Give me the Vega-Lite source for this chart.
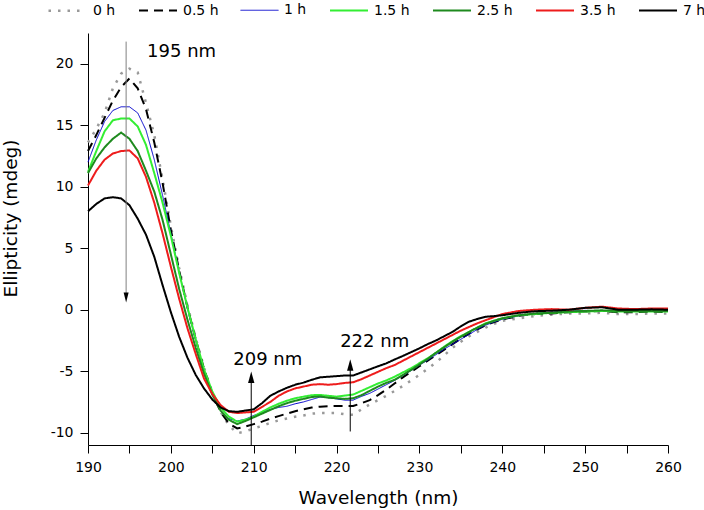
{
 "$schema": "https://vega.github.io/schema/vega-lite/v6.json",
 "width": 580, "height": 412,
 "autosize": {"type": "none"},
 "padding": {"left": 88, "top": 33, "right": 36, "bottom": 65},
 "background": "white",
 "config": {
  "view": {"stroke": null},
  "font": "DejaVu Sans",
  "axis": {"grid": false, "domainColor": "black", "domainWidth": 1, "tickColor": "black", "tickWidth": 1, "tickSize": 8,
   "labelColor": "black", "labelFont": "DejaVu Sans", "labelFontSize": 14, "titleFont": "DejaVu Sans", "titleFontSize": 18.5, "titleFontWeight": "normal", "titleColor": "black"}
 },
 "layer": [
  {
   "data": {"values": [
{"series":"0 h","wl":190,"cd":13.6},{"series":"0 h","wl":191,"cd":14.7},{"series":"0 h","wl":192,"cd":16.0},{"series":"0 h","wl":193,"cd":18.0},{"series":"0 h","wl":194,"cd":19.2},{"series":"0 h","wl":195,"cd":19.6},{"series":"0 h","wl":196,"cd":19.3},{"series":"0 h","wl":197,"cd":16.8},{"series":"0 h","wl":198,"cd":14.2},{"series":"0 h","wl":199,"cd":10.6},{"series":"0 h","wl":200,"cd":6.8},{"series":"0 h","wl":201,"cd":3.4},{"series":"0 h","wl":202,"cd":0.4},{"series":"0 h","wl":203,"cd":-2.3},{"series":"0 h","wl":204,"cd":-4.7},{"series":"0 h","wl":205,"cd":-6.7},{"series":"0 h","wl":206,"cd":-8.3},{"series":"0 h","wl":207,"cd":-9.4},{"series":"0 h","wl":208,"cd":-10.05},{"series":"0 h","wl":209,"cd":-9.9},{"series":"0 h","wl":210,"cd":-9.65},{"series":"0 h","wl":211,"cd":-9.45},{"series":"0 h","wl":212,"cd":-9.2},{"series":"0 h","wl":213,"cd":-9.0},{"series":"0 h","wl":214,"cd":-8.85},{"series":"0 h","wl":215,"cd":-8.7},{"series":"0 h","wl":216,"cd":-8.6},{"series":"0 h","wl":217,"cd":-8.45},{"series":"0 h","wl":218,"cd":-8.4},{"series":"0 h","wl":219,"cd":-8.4},{"series":"0 h","wl":220,"cd":-8.4},{"series":"0 h","wl":221,"cd":-8.5},{"series":"0 h","wl":222,"cd":-8.55},{"series":"0 h","wl":223,"cd":-8.1},{"series":"0 h","wl":224,"cd":-7.7},{"series":"0 h","wl":225,"cd":-7.35},{"series":"0 h","wl":226,"cd":-7.0},{"series":"0 h","wl":227,"cd":-6.6},{"series":"0 h","wl":228,"cd":-6.2},{"series":"0 h","wl":229,"cd":-5.75},{"series":"0 h","wl":230,"cd":-5.3},{"series":"0 h","wl":231,"cd":-4.8},{"series":"0 h","wl":232,"cd":-4.3},{"series":"0 h","wl":233,"cd":-3.7},{"series":"0 h","wl":234,"cd":-3.1},{"series":"0 h","wl":235,"cd":-2.6},{"series":"0 h","wl":236,"cd":-2.15},{"series":"0 h","wl":237,"cd":-1.8},{"series":"0 h","wl":238,"cd":-1.45},{"series":"0 h","wl":239,"cd":-1.15},{"series":"0 h","wl":240,"cd":-0.9},{"series":"0 h","wl":242,"cd":-0.7},{"series":"0 h","wl":244,"cd":-0.5},{"series":"0 h","wl":246,"cd":-0.4},{"series":"0 h","wl":248,"cd":-0.3},{"series":"0 h","wl":250,"cd":-0.3},{"series":"0 h","wl":252,"cd":-0.25},{"series":"0 h","wl":254,"cd":-0.35},{"series":"0 h","wl":256,"cd":-0.35},{"series":"0 h","wl":258,"cd":-0.3},{"series":"0 h","wl":260,"cd":-0.3},
{"series":"0.5 h","wl":190,"cd":12.9},{"series":"0.5 h","wl":191,"cd":14.2},{"series":"0.5 h","wl":192,"cd":15.6},{"series":"0.5 h","wl":193,"cd":17.0},{"series":"0.5 h","wl":194,"cd":18.1},{"series":"0.5 h","wl":195,"cd":18.8},{"series":"0.5 h","wl":196,"cd":18.0},{"series":"0.5 h","wl":197,"cd":16.3},{"series":"0.5 h","wl":198,"cd":13.6},{"series":"0.5 h","wl":199,"cd":10.3},{"series":"0.5 h","wl":200,"cd":6.5},{"series":"0.5 h","wl":201,"cd":3.2},{"series":"0.5 h","wl":202,"cd":0.2},{"series":"0.5 h","wl":203,"cd":-2.4},{"series":"0.5 h","wl":204,"cd":-4.8},{"series":"0.5 h","wl":205,"cd":-6.8},{"series":"0.5 h","wl":206,"cd":-8.3},{"series":"0.5 h","wl":207,"cd":-9.25},{"series":"0.5 h","wl":208,"cd":-9.65},{"series":"0.5 h","wl":209,"cd":-9.5},{"series":"0.5 h","wl":210,"cd":-9.3},{"series":"0.5 h","wl":211,"cd":-9.1},{"series":"0.5 h","wl":212,"cd":-8.85},{"series":"0.5 h","wl":213,"cd":-8.65},{"series":"0.5 h","wl":214,"cd":-8.45},{"series":"0.5 h","wl":215,"cd":-8.25},{"series":"0.5 h","wl":216,"cd":-8.1},{"series":"0.5 h","wl":217,"cd":-7.95},{"series":"0.5 h","wl":218,"cd":-7.88},{"series":"0.5 h","wl":219,"cd":-7.85},{"series":"0.5 h","wl":220,"cd":-7.83},{"series":"0.5 h","wl":221,"cd":-7.83},{"series":"0.5 h","wl":222,"cd":-7.83},{"series":"0.5 h","wl":223,"cd":-7.6},{"series":"0.5 h","wl":224,"cd":-7.35},{"series":"0.5 h","wl":225,"cd":-6.95},{"series":"0.5 h","wl":226,"cd":-6.5},{"series":"0.5 h","wl":227,"cd":-6.0},{"series":"0.5 h","wl":228,"cd":-5.5},{"series":"0.5 h","wl":229,"cd":-5.05},{"series":"0.5 h","wl":230,"cd":-4.6},{"series":"0.5 h","wl":231,"cd":-4.15},{"series":"0.5 h","wl":232,"cd":-3.7},{"series":"0.5 h","wl":233,"cd":-3.25},{"series":"0.5 h","wl":234,"cd":-2.8},{"series":"0.5 h","wl":235,"cd":-2.35},{"series":"0.5 h","wl":236,"cd":-1.95},{"series":"0.5 h","wl":237,"cd":-1.6},{"series":"0.5 h","wl":238,"cd":-1.25},{"series":"0.5 h","wl":239,"cd":-1.0},{"series":"0.5 h","wl":240,"cd":-0.8},{"series":"0.5 h","wl":242,"cd":-0.5},{"series":"0.5 h","wl":244,"cd":-0.35},{"series":"0.5 h","wl":246,"cd":-0.3},{"series":"0.5 h","wl":248,"cd":-0.2},{"series":"0.5 h","wl":250,"cd":-0.15},{"series":"0.5 h","wl":252,"cd":-0.1},{"series":"0.5 h","wl":254,"cd":-0.2},{"series":"0.5 h","wl":256,"cd":-0.2},{"series":"0.5 h","wl":258,"cd":-0.15},{"series":"0.5 h","wl":260,"cd":-0.2},
{"series":"1 h","wl":190,"cd":12.0},{"series":"1 h","wl":191,"cd":13.8},{"series":"1 h","wl":192,"cd":15.3},{"series":"1 h","wl":193,"cd":16.2},{"series":"1 h","wl":194,"cd":16.5},{"series":"1 h","wl":195,"cd":16.5},{"series":"1 h","wl":196,"cd":16.0},{"series":"1 h","wl":197,"cd":14.6},{"series":"1 h","wl":198,"cd":12.2},{"series":"1 h","wl":199,"cd":9.3},{"series":"1 h","wl":200,"cd":6.2},{"series":"1 h","wl":201,"cd":3.1},{"series":"1 h","wl":202,"cd":0.1},{"series":"1 h","wl":203,"cd":-2.5},{"series":"1 h","wl":204,"cd":-4.9},{"series":"1 h","wl":205,"cd":-6.8},{"series":"1 h","wl":206,"cd":-8.2},{"series":"1 h","wl":207,"cd":-8.85},{"series":"1 h","wl":208,"cd":-9.05},{"series":"1 h","wl":209,"cd":-8.9},{"series":"1 h","wl":210,"cd":-8.6},{"series":"1 h","wl":211,"cd":-8.35},{"series":"1 h","wl":212,"cd":-8.1},{"series":"1 h","wl":213,"cd":-7.95},{"series":"1 h","wl":214,"cd":-7.85},{"series":"1 h","wl":215,"cd":-7.65},{"series":"1 h","wl":216,"cd":-7.5},{"series":"1 h","wl":217,"cd":-7.3},{"series":"1 h","wl":218,"cd":-7.1},{"series":"1 h","wl":219,"cd":-7.15},{"series":"1 h","wl":220,"cd":-7.25},{"series":"1 h","wl":221,"cd":-7.35},{"series":"1 h","wl":222,"cd":-7.35},{"series":"1 h","wl":223,"cd":-7.05},{"series":"1 h","wl":224,"cd":-6.8},{"series":"1 h","wl":225,"cd":-6.45},{"series":"1 h","wl":226,"cd":-6.1},{"series":"1 h","wl":227,"cd":-5.75},{"series":"1 h","wl":228,"cd":-5.35},{"series":"1 h","wl":229,"cd":-4.95},{"series":"1 h","wl":230,"cd":-4.5},{"series":"1 h","wl":231,"cd":-4.1},{"series":"1 h","wl":232,"cd":-3.65},{"series":"1 h","wl":233,"cd":-3.2},{"series":"1 h","wl":234,"cd":-2.8},{"series":"1 h","wl":235,"cd":-2.4},{"series":"1 h","wl":236,"cd":-2.0},{"series":"1 h","wl":237,"cd":-1.6},{"series":"1 h","wl":238,"cd":-1.25},{"series":"1 h","wl":239,"cd":-1.0},{"series":"1 h","wl":240,"cd":-0.78},{"series":"1 h","wl":242,"cd":-0.5},{"series":"1 h","wl":244,"cd":-0.3},{"series":"1 h","wl":246,"cd":-0.2},{"series":"1 h","wl":248,"cd":-0.1},{"series":"1 h","wl":250,"cd":-0.05},{"series":"1 h","wl":252,"cd":-0.1},{"series":"1 h","wl":254,"cd":-0.1},{"series":"1 h","wl":256,"cd":-0.05},{"series":"1 h","wl":258,"cd":-0.1},{"series":"1 h","wl":260,"cd":-0.05},
{"series":"1.5 h","wl":190,"cd":11.2},{"series":"1.5 h","wl":191,"cd":12.9},{"series":"1.5 h","wl":192,"cd":14.5},{"series":"1.5 h","wl":193,"cd":15.4},{"series":"1.5 h","wl":194,"cd":15.55},{"series":"1.5 h","wl":195,"cd":15.55},{"series":"1.5 h","wl":196,"cd":14.9},{"series":"1.5 h","wl":197,"cd":13.4},{"series":"1.5 h","wl":198,"cd":11.1},{"series":"1.5 h","wl":199,"cd":8.7},{"series":"1.5 h","wl":200,"cd":6.0},{"series":"1.5 h","wl":201,"cd":3.0},{"series":"1.5 h","wl":202,"cd":0.2},{"series":"1.5 h","wl":203,"cd":-2.4},{"series":"1.5 h","wl":204,"cd":-4.85},{"series":"1.5 h","wl":205,"cd":-6.65},{"series":"1.5 h","wl":206,"cd":-7.95},{"series":"1.5 h","wl":207,"cd":-8.7},{"series":"1.5 h","wl":208,"cd":-9.1},{"series":"1.5 h","wl":209,"cd":-8.95},{"series":"1.5 h","wl":210,"cd":-8.7},{"series":"1.5 h","wl":211,"cd":-8.3},{"series":"1.5 h","wl":212,"cd":-7.95},{"series":"1.5 h","wl":213,"cd":-7.65},{"series":"1.5 h","wl":214,"cd":-7.4},{"series":"1.5 h","wl":215,"cd":-7.2},{"series":"1.5 h","wl":216,"cd":-7.07},{"series":"1.5 h","wl":217,"cd":-6.95},{"series":"1.5 h","wl":218,"cd":-6.93},{"series":"1.5 h","wl":219,"cd":-7.0},{"series":"1.5 h","wl":220,"cd":-7.07},{"series":"1.5 h","wl":221,"cd":-6.98},{"series":"1.5 h","wl":222,"cd":-6.9},{"series":"1.5 h","wl":223,"cd":-6.6},{"series":"1.5 h","wl":224,"cd":-6.3},{"series":"1.5 h","wl":225,"cd":-6.0},{"series":"1.5 h","wl":226,"cd":-5.75},{"series":"1.5 h","wl":227,"cd":-5.45},{"series":"1.5 h","wl":228,"cd":-5.1},{"series":"1.5 h","wl":229,"cd":-4.75},{"series":"1.5 h","wl":230,"cd":-4.35},{"series":"1.5 h","wl":231,"cd":-3.95},{"series":"1.5 h","wl":232,"cd":-3.5},{"series":"1.5 h","wl":233,"cd":-3.0},{"series":"1.5 h","wl":234,"cd":-2.55},{"series":"1.5 h","wl":235,"cd":-2.15},{"series":"1.5 h","wl":236,"cd":-1.8},{"series":"1.5 h","wl":237,"cd":-1.45},{"series":"1.5 h","wl":238,"cd":-1.1},{"series":"1.5 h","wl":239,"cd":-0.9},{"series":"1.5 h","wl":240,"cd":-0.7},{"series":"1.5 h","wl":242,"cd":-0.45},{"series":"1.5 h","wl":244,"cd":-0.35},{"series":"1.5 h","wl":246,"cd":-0.25},{"series":"1.5 h","wl":248,"cd":-0.2},{"series":"1.5 h","wl":250,"cd":-0.15},{"series":"1.5 h","wl":252,"cd":-0.1},{"series":"1.5 h","wl":254,"cd":-0.15},{"series":"1.5 h","wl":256,"cd":-0.15},{"series":"1.5 h","wl":258,"cd":-0.15},{"series":"1.5 h","wl":260,"cd":-0.15},
{"series":"2.5 h","wl":190,"cd":11.1},{"series":"2.5 h","wl":191,"cd":12.3},{"series":"2.5 h","wl":192,"cd":13.2},{"series":"2.5 h","wl":193,"cd":13.9},{"series":"2.5 h","wl":194,"cd":14.4},{"series":"2.5 h","wl":195,"cd":13.9},{"series":"2.5 h","wl":196,"cd":12.9},{"series":"2.5 h","wl":197,"cd":11.3},{"series":"2.5 h","wl":198,"cd":9.6},{"series":"2.5 h","wl":199,"cd":7.3},{"series":"2.5 h","wl":200,"cd":4.5},{"series":"2.5 h","wl":201,"cd":1.7},{"series":"2.5 h","wl":202,"cd":-0.8},{"series":"2.5 h","wl":203,"cd":-3.1},{"series":"2.5 h","wl":204,"cd":-5.2},{"series":"2.5 h","wl":205,"cd":-6.9},{"series":"2.5 h","wl":206,"cd":-8.2},{"series":"2.5 h","wl":207,"cd":-8.95},{"series":"2.5 h","wl":208,"cd":-9.3},{"series":"2.5 h","wl":209,"cd":-9.05},{"series":"2.5 h","wl":210,"cd":-8.75},{"series":"2.5 h","wl":211,"cd":-8.45},{"series":"2.5 h","wl":212,"cd":-8.15},{"series":"2.5 h","wl":213,"cd":-7.85},{"series":"2.5 h","wl":214,"cd":-7.6},{"series":"2.5 h","wl":215,"cd":-7.4},{"series":"2.5 h","wl":216,"cd":-7.25},{"series":"2.5 h","wl":217,"cd":-7.1},{"series":"2.5 h","wl":218,"cd":-7.05},{"series":"2.5 h","wl":219,"cd":-7.15},{"series":"2.5 h","wl":220,"cd":-7.2},{"series":"2.5 h","wl":221,"cd":-7.25},{"series":"2.5 h","wl":222,"cd":-7.2},{"series":"2.5 h","wl":223,"cd":-6.95},{"series":"2.5 h","wl":224,"cd":-6.6},{"series":"2.5 h","wl":225,"cd":-6.25},{"series":"2.5 h","wl":226,"cd":-5.95},{"series":"2.5 h","wl":227,"cd":-5.7},{"series":"2.5 h","wl":228,"cd":-5.3},{"series":"2.5 h","wl":229,"cd":-4.9},{"series":"2.5 h","wl":230,"cd":-4.45},{"series":"2.5 h","wl":231,"cd":-4.0},{"series":"2.5 h","wl":232,"cd":-3.5},{"series":"2.5 h","wl":233,"cd":-3.05},{"series":"2.5 h","wl":234,"cd":-2.6},{"series":"2.5 h","wl":235,"cd":-2.2},{"series":"2.5 h","wl":236,"cd":-1.8},{"series":"2.5 h","wl":237,"cd":-1.45},{"series":"2.5 h","wl":238,"cd":-1.15},{"series":"2.5 h","wl":239,"cd":-0.9},{"series":"2.5 h","wl":240,"cd":-0.7},{"series":"2.5 h","wl":242,"cd":-0.45},{"series":"2.5 h","wl":244,"cd":-0.3},{"series":"2.5 h","wl":246,"cd":-0.25},{"series":"2.5 h","wl":248,"cd":-0.15},{"series":"2.5 h","wl":250,"cd":-0.1},{"series":"2.5 h","wl":252,"cd":-0.05},{"series":"2.5 h","wl":254,"cd":-0.1},{"series":"2.5 h","wl":256,"cd":-0.1},{"series":"2.5 h","wl":258,"cd":-0.1},{"series":"2.5 h","wl":260,"cd":-0.1},
{"series":"3.5 h","wl":190,"cd":10.1},{"series":"3.5 h","wl":191,"cd":11.3},{"series":"3.5 h","wl":192,"cd":12.2},{"series":"3.5 h","wl":193,"cd":12.7},{"series":"3.5 h","wl":194,"cd":12.9},{"series":"3.5 h","wl":195,"cd":12.95},{"series":"3.5 h","wl":196,"cd":12.3},{"series":"3.5 h","wl":197,"cd":10.8},{"series":"3.5 h","wl":198,"cd":8.7},{"series":"3.5 h","wl":199,"cd":6.2},{"series":"3.5 h","wl":200,"cd":3.5},{"series":"3.5 h","wl":201,"cd":0.9},{"series":"3.5 h","wl":202,"cd":-1.5},{"series":"3.5 h","wl":203,"cd":-3.6},{"series":"3.5 h","wl":204,"cd":-5.6},{"series":"3.5 h","wl":205,"cd":-6.85},{"series":"3.5 h","wl":206,"cd":-7.75},{"series":"3.5 h","wl":207,"cd":-8.3},{"series":"3.5 h","wl":208,"cd":-8.4},{"series":"3.5 h","wl":209,"cd":-8.35},{"series":"3.5 h","wl":210,"cd":-8.3},{"series":"3.5 h","wl":211,"cd":-7.9},{"series":"3.5 h","wl":212,"cd":-7.5},{"series":"3.5 h","wl":213,"cd":-7.0},{"series":"3.5 h","wl":214,"cd":-6.65},{"series":"3.5 h","wl":215,"cd":-6.4},{"series":"3.5 h","wl":216,"cd":-6.25},{"series":"3.5 h","wl":217,"cd":-6.1},{"series":"3.5 h","wl":218,"cd":-6.05},{"series":"3.5 h","wl":219,"cd":-6.1},{"series":"3.5 h","wl":220,"cd":-6.05},{"series":"3.5 h","wl":221,"cd":-5.95},{"series":"3.5 h","wl":222,"cd":-5.9},{"series":"3.5 h","wl":223,"cd":-5.65},{"series":"3.5 h","wl":224,"cd":-5.35},{"series":"3.5 h","wl":225,"cd":-5.05},{"series":"3.5 h","wl":226,"cd":-4.75},{"series":"3.5 h","wl":227,"cd":-4.5},{"series":"3.5 h","wl":228,"cd":-4.15},{"series":"3.5 h","wl":229,"cd":-3.8},{"series":"3.5 h","wl":230,"cd":-3.45},{"series":"3.5 h","wl":231,"cd":-3.1},{"series":"3.5 h","wl":232,"cd":-2.75},{"series":"3.5 h","wl":233,"cd":-2.4},{"series":"3.5 h","wl":234,"cd":-2.05},{"series":"3.5 h","wl":235,"cd":-1.7},{"series":"3.5 h","wl":236,"cd":-1.4},{"series":"3.5 h","wl":237,"cd":-1.1},{"series":"3.5 h","wl":238,"cd":-0.85},{"series":"3.5 h","wl":239,"cd":-0.6},{"series":"3.5 h","wl":240,"cd":-0.35},{"series":"3.5 h","wl":242,"cd":-0.1},{"series":"3.5 h","wl":244,"cd":0.0},{"series":"3.5 h","wl":246,"cd":0.05},{"series":"3.5 h","wl":248,"cd":0.0},{"series":"3.5 h","wl":250,"cd":0.15},{"series":"3.5 h","wl":252,"cd":0.25},{"series":"3.5 h","wl":254,"cd":0.1},{"series":"3.5 h","wl":256,"cd":0.05},{"series":"3.5 h","wl":258,"cd":0.1},{"series":"3.5 h","wl":260,"cd":0.1},
{"series":"7 h","wl":190,"cd":8.0},{"series":"7 h","wl":191,"cd":8.6},{"series":"7 h","wl":192,"cd":9.05},{"series":"7 h","wl":193,"cd":9.15},{"series":"7 h","wl":194,"cd":9.05},{"series":"7 h","wl":195,"cd":8.5},{"series":"7 h","wl":196,"cd":7.4},{"series":"7 h","wl":197,"cd":6.1},{"series":"7 h","wl":198,"cd":4.3},{"series":"7 h","wl":199,"cd":2.0},{"series":"7 h","wl":200,"cd":-0.2},{"series":"7 h","wl":201,"cd":-2.2},{"series":"7 h","wl":202,"cd":-3.9},{"series":"7 h","wl":203,"cd":-5.3},{"series":"7 h","wl":204,"cd":-6.4},{"series":"7 h","wl":205,"cd":-7.3},{"series":"7 h","wl":206,"cd":-7.95},{"series":"7 h","wl":207,"cd":-8.25},{"series":"7 h","wl":208,"cd":-8.3},{"series":"7 h","wl":209,"cd":-8.2},{"series":"7 h","wl":210,"cd":-8.1},{"series":"7 h","wl":211,"cd":-7.6},{"series":"7 h","wl":212,"cd":-7.0},{"series":"7 h","wl":213,"cd":-6.65},{"series":"7 h","wl":214,"cd":-6.35},{"series":"7 h","wl":215,"cd":-6.1},{"series":"7 h","wl":216,"cd":-5.93},{"series":"7 h","wl":217,"cd":-5.7},{"series":"7 h","wl":218,"cd":-5.5},{"series":"7 h","wl":219,"cd":-5.45},{"series":"7 h","wl":220,"cd":-5.4},{"series":"7 h","wl":221,"cd":-5.35},{"series":"7 h","wl":222,"cd":-5.35},{"series":"7 h","wl":223,"cd":-5.1},{"series":"7 h","wl":224,"cd":-4.85},{"series":"7 h","wl":225,"cd":-4.6},{"series":"7 h","wl":226,"cd":-4.36},{"series":"7 h","wl":227,"cd":-4.05},{"series":"7 h","wl":228,"cd":-3.76},{"series":"7 h","wl":229,"cd":-3.45},{"series":"7 h","wl":230,"cd":-3.14},{"series":"7 h","wl":231,"cd":-2.8},{"series":"7 h","wl":232,"cd":-2.5},{"series":"7 h","wl":233,"cd":-2.15},{"series":"7 h","wl":234,"cd":-1.8},{"series":"7 h","wl":235,"cd":-1.35},{"series":"7 h","wl":236,"cd":-0.97},{"series":"7 h","wl":237,"cd":-0.75},{"series":"7 h","wl":238,"cd":-0.57},{"series":"7 h","wl":239,"cd":-0.52},{"series":"7 h","wl":240,"cd":-0.45},{"series":"7 h","wl":242,"cd":-0.25},{"series":"7 h","wl":244,"cd":-0.12},{"series":"7 h","wl":246,"cd":-0.08},{"series":"7 h","wl":248,"cd":0.0},{"series":"7 h","wl":250,"cd":0.15},{"series":"7 h","wl":252,"cd":0.2},{"series":"7 h","wl":254,"cd":0.0},{"series":"7 h","wl":256,"cd":0.0},{"series":"7 h","wl":258,"cd":0.03},{"series":"7 h","wl":260,"cd":0.0}
   ]},
   "mark": {"type": "line", "interpolate": "linear"},
   "encoding": {
    "x": {"field": "wl", "type": "quantitative", "scale": {"domain": [190, 260], "nice": false, "zero": false},
     "axis": {"title": "Wavelength (nm)", "values": [190,195,200,205,210,215,220,225,230,235,240,245,250,255,260], "labelExpr": "datum.value % 10 === 0 ? toString(datum.value) : ''", "labelPadding": 7, "titleY": 43, "titleBaseline": "top", "labelFlush": false}},
    "y": {"field": "cd", "type": "quantitative", "scale": {"domain": [-11, 22.5], "nice": false, "zero": false},
     "axis": {"title": "Ellipticity (mdeg)", "values": [-10,-7.5,-5,-2.5,0,2.5,5,7.5,10,12.5,15,17.5,20], "labelExpr": "datum.value % 5 === 0 ? toString(datum.value) : ''", "labelPadding": 7, "titleX": -78, "titleY": 185, "titleBaseline": "middle", "titleAlign": "center", "labelFlush": false}},
    "color": {"field": "series", "type": "nominal",
     "scale": {"domain": ["0 h","0.5 h","1 h","1.5 h","2.5 h","3.5 h","7 h"], "range": ["#999999","#000000","#0000cc","#33ee33","#1e8a1e","#ee1c1c","#000000"]},
     "legend": {"title": null, "orient": "none", "legendX": -41, "legendY": -43, "direction": "horizontal", "symbolType": "stroke", "symbolSize": 1444, "labelFontSize": 14, "labelFont": "DejaVu Sans", "labelFontWeight": "normal", "labelColor": "black", "labelOffset": 5, "columnPadding": 19, "padding": 0}},
    "strokeDash": {"field": "series", "type": "nominal",
     "scale": {"domain": ["0 h","0.5 h","1 h","1.5 h","2.5 h","3.5 h","7 h"], "range": [[2.5,7],[9,6],[1,0],[1,0],[1,0],[1,0],[1,0]]}},
    "strokeWidth": {"field": "series", "type": "nominal",
     "scale": {"type": "ordinal", "domain": ["0 h","0.5 h","1 h","1.5 h","2.5 h","3.5 h","7 h"], "range": [2.5,2,1,2,2,2,2]}}
   }
  },
  {
   "data": {"values": [{"wl": 194.6, "cd": 21.8, "cd2": 1.2}]},
   "mark": {"type": "rule", "color": "#808080", "strokeWidth": 1},
   "encoding": {"x": {"field": "wl", "type": "quantitative"}, "y": {"field": "cd", "type": "quantitative"}, "y2": {"field": "cd2"}}
  },
  {
   "data": {"values": [{"wl": 209.7, "cd": -11.0, "cd2": -5.5}, {"wl": 221.65, "cd": -9.9, "cd2": -4.5}]},
   "mark": {"type": "rule", "color": "#000000", "strokeWidth": 1},
   "encoding": {"x": {"field": "wl", "type": "quantitative"}, "y": {"field": "cd", "type": "quantitative"}, "y2": {"field": "cd2"}}
  },
  {
   "data": {"values": [{"wl": 194.6, "cd": 1.0}]},
   "mark": {"type": "point", "shape": "M-0.5,-1L0.5,-1L0,1Z", "size": 100, "filled": true, "color": "#000000", "opacity": 1},
   "encoding": {"x": {"field": "wl", "type": "quantitative"}, "y": {"field": "cd", "type": "quantitative"}}
  },
  {
   "data": {"values": [{"wl": 209.7, "cd": -5.5}, {"wl": 221.65, "cd": -4.5}]},
   "mark": {"type": "point", "shape": "M-0.55,1L0.55,1L0,-1Z", "size": 132, "filled": true, "color": "#000000", "opacity": 1},
   "encoding": {"x": {"field": "wl", "type": "quantitative"}, "y": {"field": "cd", "type": "quantitative"}}
  },
  {
   "data": {"values": [{"wl": 201.3, "cd": 20.98, "label": "195 nm"}, {"wl": 211.7, "cd": -4.06, "label": "209 nm"}, {"wl": 224.6, "cd": -2.6, "label": "222 nm"}]},
   "mark": {"type": "text", "font": "DejaVu Sans", "fontSize": 18, "color": "#000000", "align": "center", "baseline": "middle"},
   "encoding": {"x": {"field": "wl", "type": "quantitative"}, "y": {"field": "cd", "type": "quantitative"}, "text": {"field": "label"}}
  }
 ]
}
